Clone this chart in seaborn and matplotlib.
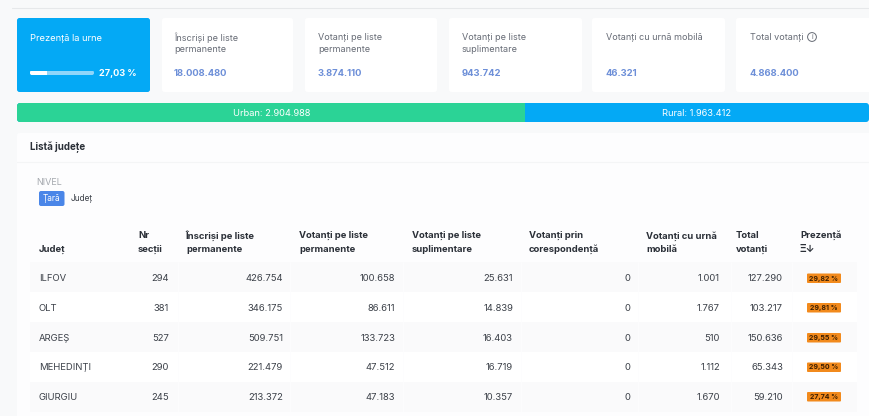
import matplotlib
matplotlib.use('Agg')
import matplotlib.pyplot as plt
import seaborn as sns
import numpy as np
from matplotlib.colors import ListedColormap
from matplotlib.patches import FancyBboxPatch, Circle
from matplotlib.transforms import Affine2D

W, H = 870, 416

# values
card_titles = ['Înscriși pe liste\npermanente', 'Votanți pe liste\npermanente',
               'Votanți pe liste\nsuplimentare', 'Votanți cu urnă mobilă', 'Total votanți']
card_values = [18008480, 3874110, 943742, 46321, 4868400]
turnout = 27.03
urban = 2904988
rural = 1963412

judete = ['ILFOV', 'OLT', 'ARGEȘ', 'MEHEDINȚI', 'GIURGIU']
sectii = [294, 381, 527, 290, 245]
inscrisi = [426754, 346175, 509751, 221479, 213372]
permanente = [100658, 86611, 133723, 47512, 47183]
suplimentare = [25631, 14839, 16403, 16719, 10357]
corespondenta = [0, 0, 0, 0, 0]
mobila = [1001, 1767, 510, 1112, 1670]
total = [127290, 103217, 150636, 65343, 59210]
prezenta = [29.82, 29.81, 29.55, 29.50, 27.74]

col_heads = ['Județ', 'Nr\nsecții', 'Înscriși pe liste\npermanente', 'Votanți pe liste\npermanente',
             'Votanți pe liste\nsuplimentare', 'Votanți prin\ncorespondență', 'Votanți cu urnă\nmobilă',
             'Total\nvotanți']
head_x = [39, 138, 186, 299, 412, 529, 646, 736]
col_right = [169, 283, 395, 513, 630, 720, 783]
row_y = [278, 307.5, 337.5, 367, 396.5]

BLUE = '#04a9f5'
GREEN = '#2bd396'
VALUE = '#6d8fd8'
GREY = '#666b75'
DARK = '#3b4048'
HEAD = '#2b3038'
ORANGE = '#f28a1c'

sns.set_theme(style='white')
plt.rcParams['font.family'] = ['Inter', 'DejaVu Sans']


def fmt(n):
    return f'{n:,}'.replace(',', '.')


def pct(p):
    return f'{p:.2f} %'.replace('.', ',')


def px_axes(x0, y0, x1, y1, z=1):
    a = fig.add_axes([x0 / W, 1 - y1 / H, (x1 - x0) / W, (y1 - y0) / H], zorder=z)
    a.set_axis_off()
    return a


def box(a, x0, y0, x1, y1, color, r=2.5):
    a.add_patch(FancyBboxPatch((x0 + r, y0 + r), x1 - x0 - 2 * r, y1 - y0 - 2 * r,
                               boxstyle=f'round,pad={r},rounding_size={r}', fc=color, ec='none'))


def stacked(a, first, whole, c1, c2, r):
    # long bar behind, shorter one in front, both from seaborn
    sns.barplot(x=[whole], color=c2, ax=a, width=1, saturation=1, orient='h', linewidth=0)
    sns.barplot(x=[first], color=c1, ax=a, width=1, saturation=1, orient='h', linewidth=0)
    a.set_xlim(0, whole)
    a.set_ylim(0.5, -0.5)
    a.set_axis_off()
    bars = list(a.patches)
    bb = a.get_position()
    w_px, h_px = bb.width * W, bb.height * H
    # rounded ends
    clip = FancyBboxPatch((r, r), w_px - 2 * r, h_px - 2 * r,
                          boxstyle=f'round,pad={r},rounding_size={r}', fc='none', ec='none',
                          transform=Affine2D().scale(1 / w_px, 1 / h_px) + a.transAxes)
    a.add_patch(clip)
    for bar in bars:
        bar.set_clip_path(clip)


fig = plt.figure(figsize=(W / 100, H / 100), dpi=100, facecolor='#f8f9fa')

# background layer: cards and panels
bg = px_axes(0, 0, W, H, z=0)
bg.set_xlim(0, W)
bg.set_ylim(H, 0)
bg.plot([12, W], [7.5, 7.5], color='#e6e8ea', lw=0.8)
box(bg, 17, 18, 150, 92, BLUE)
card_x = [(162, 293), (305, 437), (449, 582), (592, 725), (736, 875)]
for x0, x1 in card_x:
    box(bg, x0, 18, x1, 92, 'white')
box(bg, 17, 133, 880, 430, '#fdfdfe')
bg.plot([17, W], [162, 162], color='#f4f5f6', lw=0.8)

# striped table rows
stripes = np.array([[1], [0], [1], [0], [1]])
ax_rows = px_axes(30, 262, 857, 412, z=1)
sns.heatmap(stripes, ax=ax_rows, cbar=False, cmap=ListedColormap(['#ffffff', '#fafafb']),
            xticklabels=False, yticklabels=False)

# turnout progress bar
ax_prog = px_axes(30, 70.5, 94, 75, z=1)
stacked(ax_prog, turnout, 100, '#ffffff', '#8fd6fa', 2)

# urban / rural split
ax_split = px_axes(17, 103, 869, 122, z=1)
stacked(ax_split, urban, urban + rural, GREEN, BLUE, 3)

# text layer
fg = px_axes(0, 0, W, H, z=3)
fg.set_xlim(0, W)
fg.set_ylim(H, 0)
fs = 6.8


def txt(x, y, s, **kw):
    kw.setdefault('fontsize', fs)
    kw.setdefault('va', 'center')
    kw.setdefault('color', DARK)
    # va='center' sits about a pixel high
    fg.text(x, y + 0.8, s, **kw)


txt(30, 37.5, 'Prezență la urne', color='white', fontsize=6.7)
txt(137, 72.5, pct(turnout), color='white', ha='right', fontsize=6.6, fontweight='bold')

title_x = [174, 318, 462, 606, 750]
for x, t, v in zip(title_x, card_titles, card_values):
    for i, line in enumerate(t.split('\n')):
        txt(x, 36.5 + i * 12.5, line, color=GREY, fontsize=6.5)
    txt(x, 72.5, fmt(v), color=VALUE, fontsize=6.8, fontweight='bold')

fg.add_patch(Circle((812, 37), 4.4, fc='none', ec=GREY, lw=0.7))
txt(812, 36.5, 'i', color=GREY, fontsize=5, ha='center')

txt(272, 112.5, f'Urban: {fmt(urban)}', color='white', ha='center', fontsize=6.7)
txt(697, 112.5, f'Rural: {fmt(rural)}', color='white', ha='center', fontsize=6.7)

txt(30, 146.5, 'Listă județe', color=HEAD, fontsize=7, fontweight='bold')
txt(36, 181.5, 'NIVEL', color='#a4a8ae', fontsize=6.5)
box(fg, 39, 191, 64.5, 206, '#4a86e8', r=2)
txt(51.7, 198, 'Țară', color='white', ha='center', fontsize=6)
txt(71, 198, 'Județ', color=DARK, fontsize=6)

# table header
for x, head in zip(head_x, col_heads):
    lines = head.split('\n')
    if len(lines) == 1:
        txt(x, 248.5, lines[0], color=HEAD, fontweight='bold')
    else:
        txt(x, 235, lines[0], color=HEAD, fontweight='bold')
        txt(x, 248.5, lines[1], color=HEAD, fontweight='bold')
txt(800, 234, 'Prezență', color=HEAD, fontweight='bold')
txt(800, 248, 'Ξ↓', color=HEAD, fontsize=7, fontweight='bold')

# faint cell dividers
for x in [178, 290, 403, 521, 638, 731, 792]:
    fg.plot([x, x], [262, 412], color='#fdfdfe', lw=0.6)

# table body
columns = [sectii, inscrisi, permanente, suplimentare, corespondenta, mobila, total]
for r, y in enumerate(row_y):
    txt(39, y, judete[r], color=DARK)
    for c, col in enumerate(columns):
        txt(col_right[c], y, fmt(col[r]), color=DARK, ha='right')
    box(fg, 807, y - 4.5, 841, y + 5, ORANGE, r=1)
    txt(824, y - 0.3, pct(prezenta[r]), color='#3a1d00', ha='center', fontsize=5, fontweight='bold')

fig.savefig('out.png', dpi=100, facecolor=fig.get_facecolor())
